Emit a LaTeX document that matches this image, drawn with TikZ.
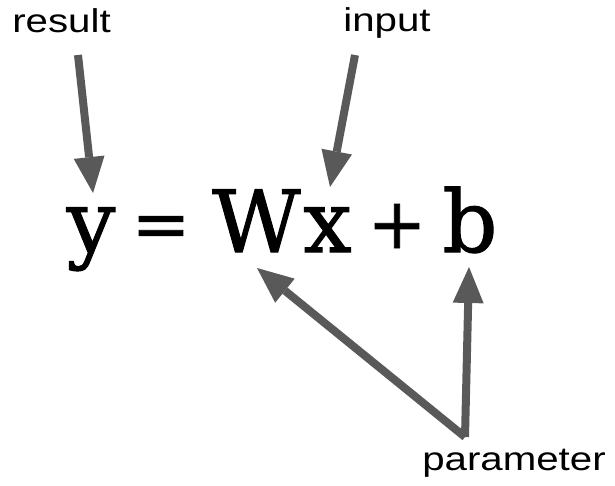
\documentclass[tikz,border=0pt]{standalone}
\usepackage{fontspec}
\setmainfont{Liberation Sans}
\newfontfamily\labelfont{Liberation Sans}[FakeStretch=1.22]
\newfontfamily\eqfont{DejaVu Serif}[FakeBold=1.2]
\usetikzlibrary{arrows.meta}
\definecolor{pointergray}{HTML}{595959}

\begin{document}
\begin{tikzpicture}[x=1pt, y=-1pt,
  tag/.style={font=\labelfont\fontsize{33}{40}\selectfont, inner sep=0pt, anchor=base},
  sym/.style={font=\eqfont\fontsize{86}{100}\selectfont, inner sep=0pt, anchor=base},
  op/.style={font=\eqfont\fontsize{70}{84}\selectfont, inner sep=0pt, anchor=base},
  pointer/.style={pointergray, line width=8pt,
    -{Triangle[length=36pt, width=31pt, line width=0pt]}}]
  \useasboundingbox (0,0) rectangle (615,486);
  % Labels
  \node[tag] (result) at (61.5,33) {result};
  \node[tag] (input) at (387,32) {input};
  \node[tag] (parameter) at (514,470) {parameter};
  % Equation y = Wx + b
  \node[sym] (ysym) at (91,252) {y};
  \node[op] (eqsign) at (161,248) {=};
  \node[sym] (Wsym) at (256.5,252) {W};
  \node[sym] (xsym) at (327.5,252) {x};
  \node[op] (plus) at (397,248) {+};
  \node[sym] (bsym) at (470,252) {b};
  % Result and input arrows
  \draw[pointer] ([xshift=16.5pt, yshift=-22pt]result.base) -- ([xshift=2pt, yshift=59pt]ysym.base);
  \draw[pointer] ([xshift=-32pt, yshift=-23pt]input.base) -- ([xshift=2.5pt, yshift=65pt]xsym.base);
  % Parameter arrows
  \coordinate (root) at ([xshift=-49pt, yshift=33pt]parameter.base);
  \draw[pointer] (root) -- ([xshift=0.5pt, yshift=-16pt]Wsym.base);
  \draw[pointer] (root) -- ([xshift=-1pt, yshift=-15pt]bsym.base);
\end{tikzpicture}
\end{document}
